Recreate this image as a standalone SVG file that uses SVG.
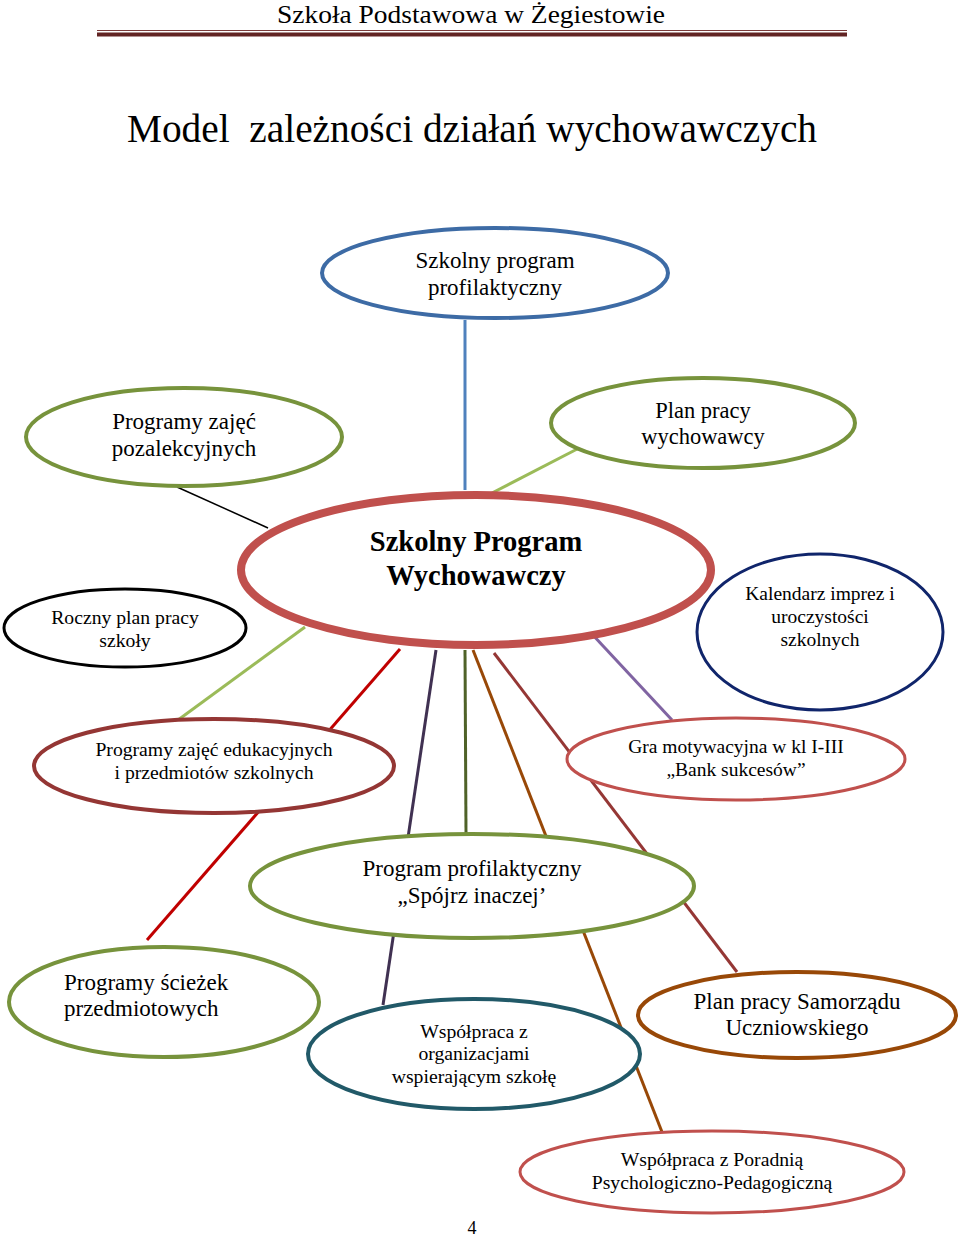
<svg xmlns="http://www.w3.org/2000/svg" width="960" height="1236" viewBox="0 0 960 1236">
<style>
text{font-family:"Liberation Serif","Times New Roman",serif;fill:#000;text-anchor:middle}
.n{fill:#fff}
</style>
<rect width="960" height="1236" fill="#fff"/>
<g id="header">
<text x="471" y="23" font-size="25" textLength="388" lengthAdjust="spacingAndGlyphs">Szkoła Podstawowa w Żegiestowie</text>
<line x1="97" y1="30.5" x2="847" y2="30.5" stroke="#7b3b3a" stroke-width="1"/>
<line x1="97" y1="34.5" x2="847" y2="34.5" stroke="#622423" stroke-width="4"/>
<text x="472" y="142" font-size="40" textLength="690" lengthAdjust="spacingAndGlyphs" xml:space="preserve">Model  zależności działań wychowawczych</text>
</g>
<g id="connectors" fill="none">
<line x1="465" y1="320" x2="465" y2="490" stroke="#4f81bd" stroke-width="3"/>
<line x1="177" y1="487" x2="268" y2="528" stroke="#000" stroke-width="1.5"/>
<line x1="492" y1="493" x2="583" y2="446" stroke="#9bbb59" stroke-width="3"/>
<line x1="305" y1="627" x2="178" y2="720" stroke="#9bbb59" stroke-width="3"/>
<line x1="591" y1="633" x2="672" y2="720" stroke="#8064a2" stroke-width="3"/>
<line x1="400" y1="649" x2="147" y2="940" stroke="#c00000" stroke-width="3"/>
<line x1="436" y1="650" x2="383" y2="1005" stroke="#403152" stroke-width="3"/>
<line x1="465" y1="650" x2="466" y2="833" stroke="#4f6228" stroke-width="3"/>
<line x1="473" y1="650" x2="662" y2="1132" stroke="#984807" stroke-width="3"/>
<line x1="494" y1="653" x2="737" y2="972" stroke="#953735" stroke-width="3"/>
</g>
<g id="n-profilaktyczny">
<ellipse class="n" cx="495" cy="273" rx="173" ry="45" stroke="#3d6ba5" stroke-width="4"/>
<text x="495" y="268" font-size="23">Szkolny program</text>
<text x="495" y="295" font-size="23">profilaktyczny</text>
</g>
<g id="n-pozalekcyjne">
<ellipse class="n" cx="184" cy="437" rx="158" ry="49" stroke="#77933c" stroke-width="4"/>
<text x="184" y="429" font-size="23">Programy zajęć</text>
<text x="184" y="456" font-size="23">pozalekcyjnych</text>
</g>
<g id="n-wychowawca">
<ellipse class="n" cx="703" cy="423" rx="152" ry="45" stroke="#77933c" stroke-width="4"/>
<text x="703" y="418" font-size="22.5">Plan pracy</text>
<text x="703" y="444" font-size="22.5">wychowawcy</text>
</g>
<g id="n-centralny">
<ellipse class="n" cx="476" cy="570" rx="235" ry="75" stroke="#c0504d" stroke-width="8"/>
<text x="476" y="551" font-size="28.5" font-weight="bold">Szkolny Program</text>
<text x="476" y="585" font-size="28.5" font-weight="bold">Wychowawczy</text>
</g>
<g id="n-roczny">
<ellipse class="n" cx="125" cy="628" rx="121" ry="39" stroke="#000" stroke-width="3"/>
<text x="125" y="624" font-size="19.7">Roczny plan pracy</text>
<text x="125" y="647" font-size="19.7">szkoły</text>
</g>
<g id="n-kalendarz">
<ellipse class="n" cx="820" cy="632" rx="123" ry="78" stroke="#10256b" stroke-width="3"/>
<text x="820" y="600" font-size="19.5">Kalendarz imprez i</text>
<text x="820" y="623" font-size="19.5">uroczystości</text>
<text x="820" y="646" font-size="19.5">szkolnych</text>
</g>
<g id="n-edukacyjne">
<ellipse class="n" cx="214" cy="766" rx="180" ry="47" stroke="#943634" stroke-width="4"/>
<text x="214" y="756" font-size="19.7">Programy zajęć edukacyjnych</text>
<text x="214" y="779" font-size="19.7">i przedmiotów szkolnych</text>
</g>
<g id="n-gra">
<ellipse class="n" cx="736" cy="759" rx="169" ry="41" stroke="#c0504d" stroke-width="3"/>
<text x="736" y="753" font-size="19.5">Gra motywacyjna w kl I-III</text>
<text x="736" y="776" font-size="19.5">„Bank sukcesów”</text>
</g>
<g id="n-spojrz">
<ellipse class="n" cx="472" cy="886" rx="222" ry="52" stroke="#77933c" stroke-width="4"/>
<text x="472" y="876" font-size="23">Program profilaktyczny</text>
<text x="472" y="903" font-size="23">„Spójrz inaczej’</text>
</g>
<g id="n-sciezki">
<ellipse class="n" cx="164" cy="1002" rx="155" ry="55" stroke="#77933c" stroke-width="4"/>
<text x="64" y="990" font-size="23" style="text-anchor:start">Programy ścieżek</text>
<text x="64" y="1016" font-size="23" style="text-anchor:start">przedmiotowych</text>
</g>
<g id="n-organizacje">
<ellipse class="n" cx="474" cy="1054" rx="166" ry="55" stroke="#215968" stroke-width="4"/>
<text x="474" y="1038" font-size="19.7">Współpraca z</text>
<text x="474" y="1060" font-size="19.7">organizacjami</text>
<text x="474" y="1083" font-size="19.7">wspierającym szkołę</text>
</g>
<g id="n-samorzad">
<ellipse class="n" cx="797" cy="1015" rx="159" ry="43" stroke="#984807" stroke-width="4"/>
<text x="797" y="1009" font-size="23">Plan pracy Samorządu</text>
<text x="797" y="1035" font-size="23">Uczniowskiego</text>
</g>
<g id="n-poradnia">
<ellipse class="n" cx="712" cy="1172" rx="192" ry="41" stroke="#c0504d" stroke-width="3"/>
<text x="712" y="1166" font-size="19.7">Współpraca z Poradnią</text>
<text x="712" y="1189" font-size="19.7">Psychologiczno-Pedagogiczną</text>
</g>
<text x="472" y="1234" font-size="18">4</text>
</svg>
